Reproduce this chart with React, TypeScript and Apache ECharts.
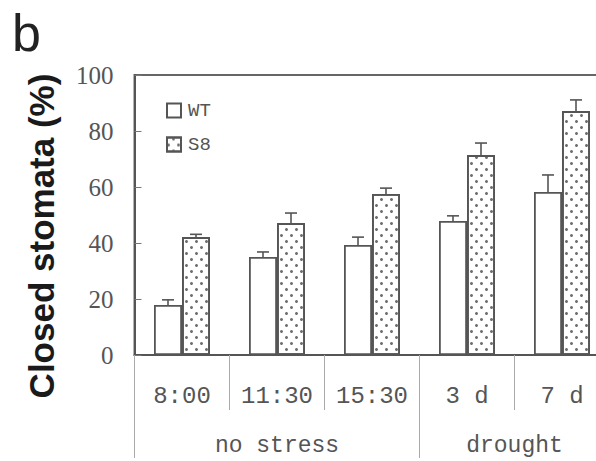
import React, { useEffect, useRef } from 'react';
import * as echarts from 'echarts';

const categories = ['8:00', '11:30', '15:30', '3 d', '7 d'];
const groups = ['no stress', 'drought'];
const groupCenters = [1.5, 4];
const groupBounds = [0, 3, 5];
const wtValues = [17.9, 35.0, 39.3, 47.9, 58.2];
const wtErrors = [1.8, 1.8, 2.8, 1.8, 6.1];
const s8Values = [42.1, 47.1, 57.5, 71.4, 87.1];
const s8Errors = [1.0, 3.6, 2.1, 4.3, 4.0];
const seriesNames = ['WT', 'S8'];
const yTitle = 'Closed stomata (%)';
const panelLabel = 'b';

const BAR_W = 28;

export default function App() {
  const ref = useRef<HTMLDivElement>(null);
  useEffect(() => {
    const chart = echarts.init(ref.current!, null, { renderer: 'svg' });
    const monoFont = '"Liberation Mono", monospace';
    const serifFont = '"Liberation Serif", "DejaVu Serif", serif';
    const barStyle = { color: '#fff', borderColor: '#555', borderWidth: 1.8 };
    const decal = {
      symbol: 'circle',
      symbolSize: 1,
      color: '#6e6e6e',
      backgroundColor: 'rgba(255,255,255,0)',
      dashArrayX: [[2.6, 6.4], [0, 4.5, 2.6, 1.9]],
      dashArrayY: [2.6, 2.6],
    };
    const errData = [
      ...wtValues.map((v, i) => [i, v, v + wtErrors[i], -1]),
      ...s8Values.map((v, i) => [i, v, v + s8Errors[i], 1]),
    ];
    chart.setOption({
      animation: false,
      grid: {
        left: 134.5,
        top: 75,
        width: 475,
        height: 280,
        show: true,
        borderColor: '#666',
        borderWidth: 2,
        backgroundColor: 'transparent',
        containLabel: false,
        outerBoundsMode: 'none',
      },
      legend: {
        data: seriesNames,
        orient: 'vertical',
        left: 166,
        top: 101,
        padding: 0,
        itemWidth: 14,
        itemHeight: 14,
        itemGap: 15,
        icon: 'rect',
        textStyle: { fontFamily: monoFont, fontSize: 19, color: '#555', padding: [0, 0, 0, 2] },
      },
      xAxis: [
        {
          type: 'category',
          data: categories,
          axisLine: { show: true, lineStyle: { color: '#555', width: 2 } },
          axisTick: { show: true, length: 55, lineStyle: { color: '#aaa', width: 1 } },
          axisLabel: { margin: 29, fontFamily: monoFont, fontSize: 24, color: '#555' },
        },
        {
          type: 'value',
          position: 'bottom',
          min: 0,
          max: 5,
          axisLine: { show: false },
          splitLine: { show: false },
          axisTick: { show: true, customValues: groupBounds, length: 103, lineStyle: { color: '#aaa', width: 1 } },
          axisLabel: {
            customValues: groupCenters,
            formatter: (v: number) => groups[groupCenters.indexOf(v)] ?? '',
            margin: 79,
            fontFamily: monoFont,
            fontSize: 23,
            color: '#555',
          },
        },
      ],
      yAxis: {
        type: 'value',
        min: 0,
        max: 100,
        interval: 20,
        axisLine: { show: true, lineStyle: { color: '#555', width: 2 } },
        axisTick: { show: true, inside: true, length: 7, lineStyle: { color: '#777', width: 1 } },
        splitLine: { show: false },
        axisLabel: { margin: 21, fontFamily: serifFont, fontSize: 25, color: '#555' },
      },
      graphic: [
        {
          type: 'text',
          x: 12,
          y: 33,
          style: {
            text: panelLabel,
            font: '52px "Liberation Sans", Arial, sans-serif',
            fill: '#222',
            align: 'left',
            verticalAlign: 'middle',
          },
        },
        {
          type: 'text',
          x: 41,
          y: 236,
          rotation: Math.PI / 2,
          style: {
            text: yTitle,
            font: 'bold 35px "Liberation Sans", Arial, sans-serif',
            fill: '#1a1a1a',
            align: 'center',
            verticalAlign: 'middle',
          },
        },
      ],
      series: [
        {
          name: seriesNames[0],
          type: 'bar',
          data: wtValues,
          barWidth: BAR_W,
          barGap: '0%',
          itemStyle: barStyle,
        },
        {
          name: seriesNames[1],
          type: 'bar',
          data: s8Values,
          barWidth: BAR_W,
          barGap: '0%',
          itemStyle: { ...barStyle, decal },
        },
        {
          name: 'err',
          type: 'custom',
          xAxisIndex: 0,
          yAxisIndex: 0,
          z: 5,
          encode: { x: 0, y: [1, 2] },
          data: errData,
          renderItem: (params: any, api: any) => {
            const cat = api.value(0);
            const v = api.value(1);
            const hi = api.value(2);
            const side = api.value(3);
            const p0 = api.coord([cat, v]);
            const p1 = api.coord([cat, hi]);
            const x = p0[0] + (side * BAR_W) / 2;
            const st = { stroke: '#555', lineWidth: 1.6 };
            return {
              type: 'group',
              children: [
                { type: 'line', shape: { x1: x, y1: p0[1], x2: x, y2: p1[1] }, style: st },
                { type: 'line', shape: { x1: x - 6, y1: p1[1], x2: x + 6, y2: p1[1] }, style: st },
              ],
            };
          },
        },
      ],
    });
    return () => chart.dispose();
  }, []);
  return (
    <div
      ref={ref}
      style={{ position: 'fixed', left: 0, top: 0, width: 596, height: 461, background: '#fff' }}
    />
  );
}
